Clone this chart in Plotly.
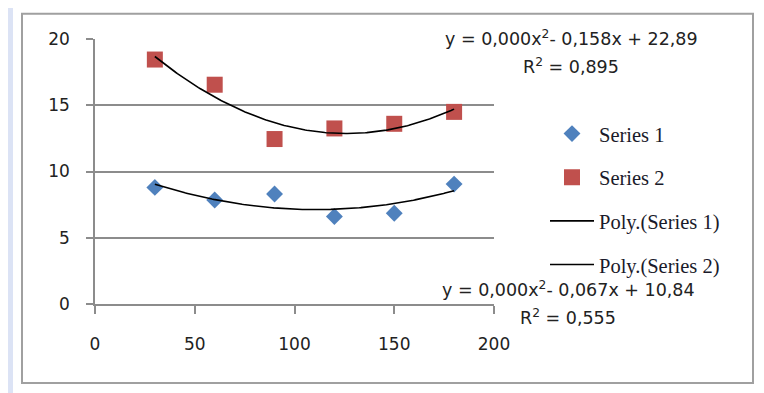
import numpy as np
import plotly.graph_objects as go

x_vals = [30, 60, 90, 120, 150, 180]
series1 = [8.8, 7.85, 8.3, 6.6, 6.85, 9.05]
series2 = [18.45, 16.55, 12.45, 13.25, 13.6, 14.5]
x_ticks = [0, 50, 100, 150, 200]
y_ticks = [0, 5, 10, 15, 20]
eq1_line = "y = 0,000x<sup>2</sup>- 0,067x + 10,84"
eq1_r2 = "R<sup>2</sup> = 0,555"
eq2_line = "y = 0,000x<sup>2</sup>- 0,158x + 22,89"
eq2_r2 = "R<sup>2</sup> = 0,895"

OFF = 8  # page body margin
W, H = 764 - OFF, 393 - OFF
L, R, T, B = 95 - OFF, 494 - OFF, 39.3 - OFF, 304 - OFF

def px(xp):
    return (xp - OFF - L) / (R - L)

def py(yp):
    return (B - (yp - OFF)) / (B - T)

xs = np.linspace(min(x_vals), max(x_vals), 200)
c1 = np.polyfit(x_vals, series1, 2)
c2 = np.polyfit(x_vals, series2, 2)

fig = go.Figure()
fig.add_trace(go.Scatter(x=x_vals, y=series1, mode="markers", name="Series 1",
                         marker=dict(symbol="diamond", size=13, color="#4f81bd"),
                         legendgroup="a"))
fig.add_trace(go.Scatter(x=x_vals, y=series2, mode="markers", name="Series 2",
                         marker=dict(symbol="square", size=16, color="#c0504d"),
                         legendgroup="b"))
fig.add_trace(go.Scatter(x=xs, y=np.polyval(c1, xs), mode="lines", name="Poly.(Series 1)",
                         line=dict(color="black", width=1.6), legendgroup="c"))
fig.add_trace(go.Scatter(x=xs, y=np.polyval(c2, xs), mode="lines", name="Poly.(Series 2)",
                         line=dict(color="black", width=1.6), legendgroup="d"))

tickfont = dict(family="DejaVu Sans", size=17, color="#222222")
fig.update_layout(
    width=W, height=H,
    margin=dict(l=L, r=W - R, t=T, b=H - B, autoexpand=False),
    paper_bgcolor="white", plot_bgcolor="white",
    showlegend=True,
    legend=dict(x=px(545), y=py(114), xanchor="left", yanchor="top",
                font=dict(family="Liberation Serif", size=20.5, color="#1a1a2a"),
                tracegroupgap=14, traceorder="grouped", bgcolor="rgba(0,0,0,0)",
                itemwidth=44),
    xaxis=dict(range=[0, 200], tickvals=x_ticks, showgrid=False, zeroline=False,
               showline=True, linecolor="#8c8c8c", linewidth=1.5,
               ticks="outside", ticklen=8, tickcolor="#8c8c8c", tickwidth=1.5,
               tickfont=tickfont, ticklabelstandoff=16),
    yaxis=dict(range=[0, 20], tickvals=y_ticks, showgrid=True, gridcolor="#8c8c8c",
               gridwidth=1.5, zeroline=False,
               showline=True, linecolor="#8c8c8c", linewidth=1.5,
               ticks="outside", ticklen=7, tickcolor="#8c8c8c", tickwidth=1.5,
               tickfont=tickfont, ticklabelstandoff=13),
)

shapes = [
    dict(type="rect", xref="paper", yref="paper", x0=px(8), x1=px(13), y0=py(0), y1=py(393),
         fillcolor="#dce3f5", line=dict(width=0), layer="below"),
    dict(type="rect", xref="paper", yref="paper", x0=px(22), x1=px(753), y0=py(14), y1=py(383),
         fillcolor="rgba(0,0,0,0)", line=dict(color="#a0a0a0", width=2), layer="below"),
]
fig.update_layout(shapes=shapes)

eqfont = dict(family="DejaVu Sans", size=17.5, color="#222222")
for txt, xc, yc in [(eq2_line, 571, 38), (eq2_r2, 571, 66),
                    (eq1_line, 568, 289), (eq1_r2, 568, 317)]:
    fig.add_annotation(xref="paper", yref="paper", x=px(xc), y=py(yc), text=txt,
                       showarrow=False, font=eqfont, xanchor="center", yanchor="middle")

fig.write_html("out.html")
